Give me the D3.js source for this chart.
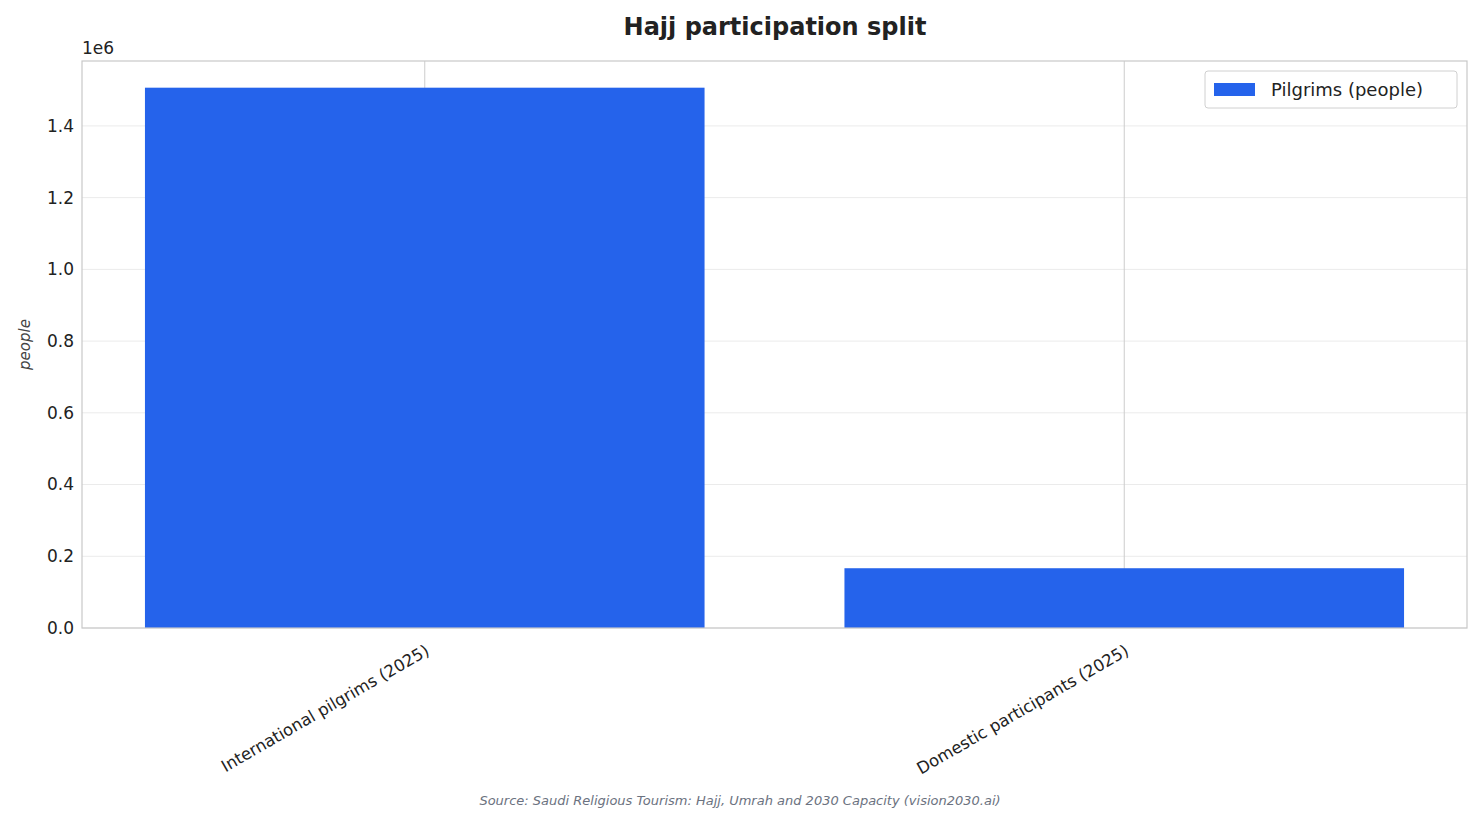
<!DOCTYPE html>
<html><head><meta charset="utf-8">
<script src="https://cdn.jsdelivr.net/npm/d3@7"></script>
<style>body{margin:0;background:#fff;font-family:"DejaVu Sans",sans-serif}</style>
</head><body><svg id="chart" width="1482" height="824"></svg>
<script>
// Hajj 2025 participation
const categories = ["International pilgrims (2025)", "Domestic participants (2025)"];
const pilgrims = [1506576, 166654];
const yTicks = [0, 0.2e6, 0.4e6, 0.6e6, 0.8e6, 1.0e6, 1.2e6, 1.4e6];

const svg = d3.select("#chart");
const m = {left: 82, right: 1467, top: 61, bottom: 628};

const x = d3.scaleLinear().domain([-0.49, categories.length - 1 + 0.49]).range([m.left, m.right]);
const y = d3.scaleLinear().domain([0, 1.581e6]).range([m.bottom, m.top]);
const barW = (x(0.8) - x(0));

// horizontal grid
svg.append("g").selectAll("line").data(yTicks).join("line")
  .attr("x1", m.left).attr("x2", m.right)
  .attr("y1", d => y(d)).attr("y2", d => y(d))
  .attr("stroke", "#ebebeb");
// vertical grid
svg.append("g").selectAll("line").data(categories).join("line")
  .attr("x1", (d, i) => x(i)).attr("x2", (d, i) => x(i))
  .attr("y1", m.top).attr("y2", m.bottom)
  .attr("stroke", "#cccccc");

svg.append("g").selectAll("rect").data(pilgrims).join("rect")
  .attr("x", (d, i) => x(i) - barW / 2).attr("width", barW)
  .attr("y", d => y(d)).attr("height", d => y(0) - y(d))
  .attr("fill", "#2563eb");

svg.append("rect").attr("x", m.left).attr("y", m.top)
  .attr("width", m.right - m.left).attr("height", m.bottom - m.top)
  .attr("fill", "none").attr("stroke", "#c8c8c8").attr("stroke-width", 1.2);

// y axis
const ya = svg.append("g");
ya.selectAll("text").data(yTicks).join("text")
  .attr("x", m.left - 8).attr("y", d => y(d)).attr("dy", "0.35em")
  .attr("text-anchor", "end").attr("font-size", 17).attr("fill", "#222")
  .text(d => (d / 1e6).toFixed(1));
svg.append("text").attr("x", m.left).attr("y", 54).attr("font-size", 17).attr("fill", "#222").text("1e6");
svg.append("text").attr("transform", `translate(30,${(m.top + m.bottom) / 2}) rotate(-90)`)
  .attr("text-anchor", "middle").attr("font-size", 15).attr("font-style", "italic").attr("fill", "#444")
  .text("people");

// x labels
svg.append("g").selectAll("text").data(categories).join("text")
  .attr("transform", (d, i) => `translate(${x(i)},${m.bottom + 16}) rotate(-30)`)
  .attr("text-anchor", "end").attr("dy", "0.7em").attr("font-size", 16.5).attr("fill", "#222")
  .text(d => d);

svg.append("text").attr("x", 775).attr("y", 35).attr("text-anchor", "middle")
  .attr("font-size", 24).attr("font-weight", "bold").attr("fill", "#222").text("Hajj participation split");
svg.append("text").attr("x", 740).attr("y", 805).attr("text-anchor", "middle")
  .attr("font-size", 13).attr("font-style", "italic").attr("fill", "#6b7280")
  .text("Source: Saudi Religious Tourism: Hajj, Umrah and 2030 Capacity (vision2030.ai)");

// legend
const lg = svg.append("g").attr("transform", "translate(1205,71)");
lg.append("rect").attr("width", 252).attr("height", 37).attr("rx", 3)
  .attr("fill", "#fff").attr("stroke", "#d0d0d0");
lg.append("rect").attr("x", 9).attr("y", 12).attr("width", 41).attr("height", 13).attr("fill", "#2563eb");
lg.append("text").attr("x", 66).attr("y", 18.5).attr("dy", "0.35em").attr("font-size", 18).attr("fill", "#222")
  .text("Pilgrims (people)");
</script></body></html>
